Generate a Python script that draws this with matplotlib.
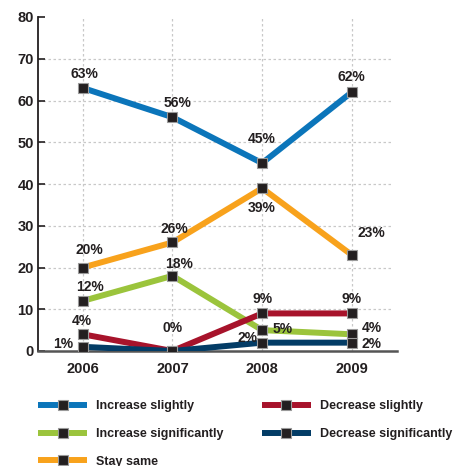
import matplotlib
matplotlib.use("Agg")
import matplotlib.pyplot as plt

years = [2006, 2007, 2008, 2009]
increase_slightly = [63, 56, 45, 62]
stay_same = [20, 26, 39, 23]
increase_significantly = [12, 18, 5, 4]
decrease_slightly = [4, 0, 9, 9]
decrease_significantly = [1, 0, 2, 2]

names = ["Increase slightly", "Increase significantly", "Stay same",
         "Decrease slightly", "Decrease significantly"]
series = [increase_slightly, increase_significantly, stay_same,
          decrease_slightly, decrease_significantly]
colors = ["#0b75ba", "#9bc43c", "#f8a21c", "#a7132b", "#033c66"]

# label offsets in pixels (dx, dy) from each marker, None = no label
offsets = [
    [(2, 14), (5, 14), (0, 24), (0, 15)],
    [(7, 14), (7, 12), (21, 1), (20, 6)],
    [(7, 18), (2, 13), (0, -20), (20, 22)],
    [(-1, 13), (0, 23), (0, 14), (0, 14)],
    [(-20, 3), None, (-15, 5), (20, -1)],
]

plt.rcParams["font.family"] = ["Liberation Sans", "DejaVu Sans"]
plt.rcParams["font.weight"] = "bold"

fig = plt.figure(figsize=(4.58, 4.66), dpi=100)
W, H = 458, 466
ax = fig.add_axes([38 / W, 1 - 351 / H, (393 - 38) / W, (351 - 17) / H])

for i in [0, 2, 1, 3, 4]:
    ax.plot(years, series[i], color=colors[i], lw=4.3, solid_capstyle="butt",
            marker="s", markersize=7.5, markerfacecolor="#231f20",
            markeredgecolor="#9a9a9a", markeredgewidth=0.8,
            label=names[i], zorder=3 + (i == 4))

for i, vals in enumerate(series):
    for x, v, off in zip(years, vals, offsets[i]):
        if off is None:
            continue
        dx, dy = off
        ax.annotate(f"{v}%", (x, v), xytext=(dx * 0.72, dy * 0.72),
                    textcoords="offset points", ha="center", va="center",
                    fontsize=10, fontweight="bold", color="#231f20", zorder=6)

ax.set_xlim(2005.5, 2009.46)
ax.set_ylim(0, 80)
ax.set_xticks(years)
ax.set_yticks(range(0, 81, 10))
ax.tick_params(axis="y", direction="in", length=5, width=1.2, labelsize=10.5,
               pad=3, colors="#231f20")
ax.tick_params(axis="x", length=0, labelsize=10.5, pad=8, colors="#231f20")
for lab in ax.get_xticklabels() + ax.get_yticklabels():
    lab.set_fontweight("bold")

ax.grid(True, color="#c8c8c8", linestyle=(0, (2, 2)), linewidth=0.9)
ax.set_axisbelow(True)
ax.yaxis.get_gridlines()[-1].set_visible(False)
ax.yaxis.get_gridlines()[0].set_visible(False)

ax.spines["top"].set_visible(False)
ax.spines["right"].set_visible(False)
ax.spines["left"].set_color("#231f20")
ax.spines["left"].set_linewidth(1.3)
ax.spines["bottom"].set_color("#555555")
ax.spines["bottom"].set_linewidth(1.8)
ax.spines["bottom"].set_bounds(2005.5, 2009.5)

handles, labels = ax.get_legend_handles_labels()
hmap = dict(zip(labels, handles))
leg = fig.legend([hmap[n] for n in names], names, ncol=2, loc="upper left",
                 bbox_to_anchor=(27 / W, 1 - 389 / H), frameon=False,
                 handlelength=3.9, numpoints=1, labelspacing=1.25,
                 columnspacing=3.1, handletextpad=0.7,
                 prop={"size": 9, "weight": "bold"})
for t in leg.get_texts():
    t.set_color("#231f20")

fig.savefig("out.png", dpi=100)
